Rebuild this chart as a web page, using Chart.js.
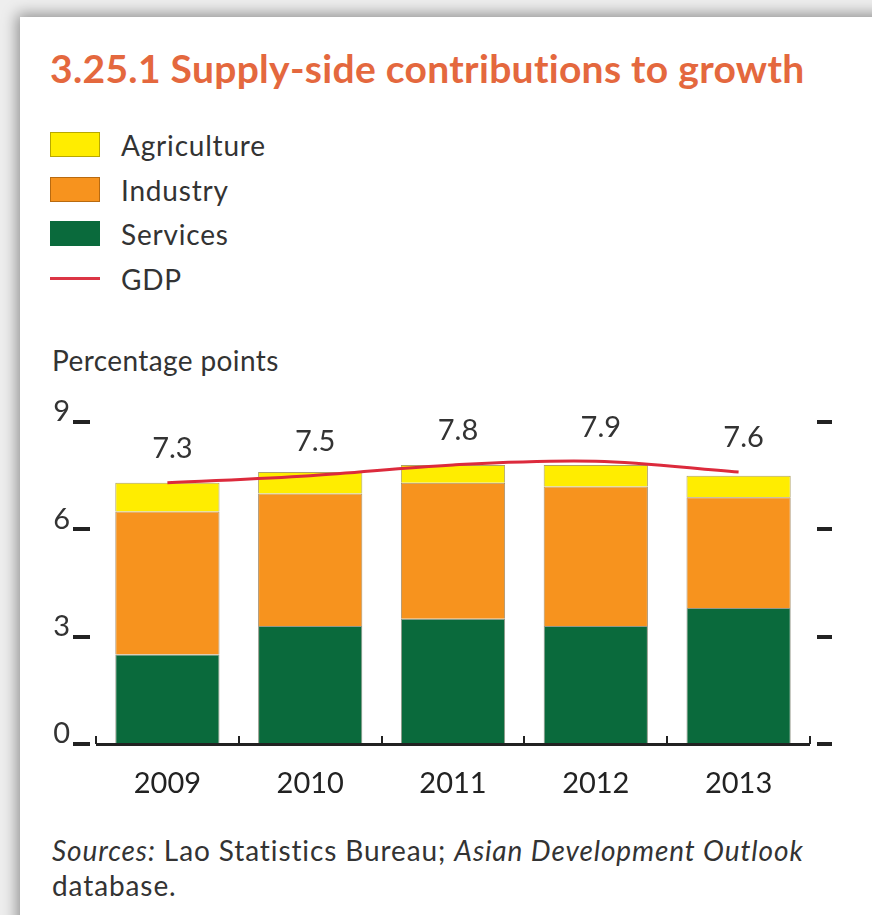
<!DOCTYPE html>
<html>
<head>
<meta charset="utf-8">
<script src="https://cdn.jsdelivr.net/npm/chart.js@4"></script>
<style>
	html, body { margin: 0; padding: 0; }
	body { width: 872px; height: 915px; overflow: hidden; background: #eeeeee; position: relative; font-family: Lato, "Open Sans", sans-serif; color: #333; }
	.carte { position: absolute; left: 20px; top: 17px; width: 900px; height: 950px; background: #fff; box-shadow: 0 0 14px 3px rgba(0, 0, 0, 0.4); }
	.titre { position: absolute; left: 50px; top: 45px; font-size: 39px; font-weight: 700; letter-spacing: 0.3px; color: #E4683E; white-space: nowrap; }
	.legende { position: absolute; left: 50px; top: 128px; }
	.legende div { position: relative; height: 44.5px; font-size: 28px; letter-spacing: 0.8px; line-height: 34px; padding-left: 71px; }
	.legende span { position: absolute; left: 0; top: 4px; width: 50px; height: 25px; box-sizing: border-box; }
	.legende span.ligne { top: 15px; height: 3px; }
	.unite { position: absolute; left: 52px; top: 343px; font-size: 28px; letter-spacing: 0.4px; }
	.sources { position: absolute; left: 52px; top: 833px; font-size: 28px; letter-spacing: 0.9px; line-height: 35px; width: 800px; }
	canvas { position: absolute; left: 0; top: 0; pointer-events: none; }
</style>
</head>
<body>
<div class="carte"></div>
<div class="titre">3.25.1 Supply-side contributions to growth</div>
<div class="legende">
	<div><span style="background:#FFED00;border:1px solid #b8a800"></span>Agriculture</div>
	<div><span style="background:#F7931E;border:1px solid #b86a10"></span>Industry</div>
	<div><span style="background:#0A6A3C"></span>Services</div>
	<div><span class="ligne" style="background:#DC3545"></span>GDP</div>
</div>
<div class="unite">Percentage points</div>
<div class="sources"><i>Sources:</i> Lao Statistics Bureau; <i>Asian Development Outlook</i> database.</div>
<canvas id="graphique" width="872" height="915"></canvas>
<script>
// Données
const annees = ["2009", "2010", "2011", "2012", "2013"];
const services = [2.5, 3.3, 3.5, 3.3, 3.8];
const industrie = [4.0, 3.7, 3.8, 3.9, 3.1];
const agriculture = [0.8, 0.6, 0.5, 0.6, 0.6];
const pib = [7.3, 7.5, 7.8, 7.9, 7.6];
const graduations = [0, 3, 6, 9];

const police = "Lato, 'Open Sans', sans-serif";

// Tirets des graduations, axe du bas et étiquettes du PIB
const decor = {
	id: "decor",
	afterDraw(chart) {
		const ctx = chart.ctx;
		const zone = chart.chartArea;
		const x = chart.scales.x;
		const y = chart.scales.y;
		ctx.save();
		ctx.fillStyle = "#222";
		for (const v of graduations) {
			const py = Math.round(y.getPixelForValue(v));
			ctx.fillRect(73, py - 2, 17, 4);
			ctx.fillRect(817, py - 2, 15, 4);
		}
		// axe du bas
		ctx.fillRect(zone.left, zone.bottom - 1, zone.right - zone.left, 3);
		for (let i = 0; i <= annees.length; i++) {
			const px = i < annees.length ? x.getPixelForValue(i) - (x.getPixelForValue(1) - x.getPixelForValue(0)) / 2 : zone.right;
			ctx.fillRect(Math.round(px) - 1, zone.bottom - 8, 2, 8);
		}
		// valeurs du PIB
		const meta = chart.getDatasetMeta(3);
		ctx.fillStyle = "#333";
		ctx.font = "29px " + police;
		ctx.textAlign = "center";
		ctx.textBaseline = "middle";
		meta.data.forEach((pt, i) => {
			ctx.fillText(pib[i].toFixed(1), pt.x + 5, pt.y - 34);
		});
		ctx.restore();
	}
};

const data = {
	labels: annees,
	datasets: [
		{ type: "bar", label: "Services", data: services, backgroundColor: "#0A6A3C", borderColor: "rgba(40,50,20,0.5)", borderWidth: 1, order: 1 },
		{ type: "bar", label: "Industry", data: industrie, backgroundColor: "#F7931E", borderColor: "rgba(110,70,10,0.6)", borderWidth: 1, order: 1 },
		{ type: "bar", label: "Agriculture", data: agriculture, backgroundColor: "#FFED00", borderColor: "rgba(120,100,0,0.6)", borderWidth: 1, order: 1 },
		{ type: "line", label: "GDP", data: pib, borderColor: "#DC2A3C", borderWidth: 3, pointRadius: 0, tension: 0.35, order: 0 }
	]
};

const config = {
	data: data,
	plugins: [decor],
	options: {
		responsive: false,
		animation: false,
		layout: { padding: { left: 0, top: 422, right: 62, bottom: 111 } },
		datasets: { bar: { categoryPercentage: 1, barPercentage: 0.73 } },
		plugins: { legend: { display: false }, tooltip: { enabled: false } },
		scales: {
			x: {
				stacked: true,
				grid: { display: false, drawTicks: false },
				border: { display: false },
				ticks: { color: "#222", font: { family: police, size: 29 }, padding: 22 },
				afterFit: s => { s.height = 60; }
			},
			y: {
				stacked: true,
				min: 0,
				max: 9,
				grid: { display: false, drawTicks: false },
				border: { display: false },
				ticks: { stepSize: 3, color: "#333", font: { family: police, size: 29 }, padding: 26, labelOffset: -10 },
				afterFit: s => { s.width = 96; }
			}
		}
	}
};

new Chart(document.querySelector("#graphique"), config);
</script>
</body>
</html>
